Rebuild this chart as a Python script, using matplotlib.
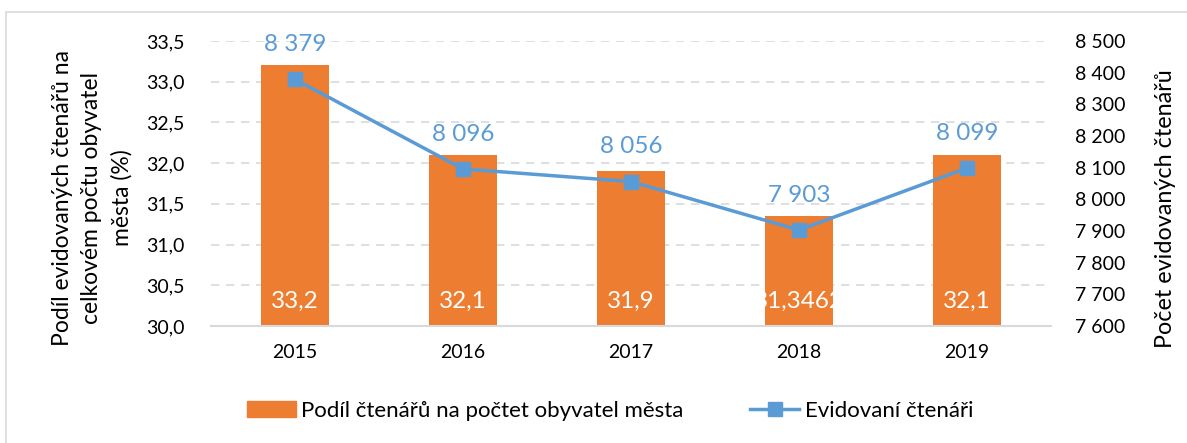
import matplotlib.pyplot as plt
from matplotlib.patches import Rectangle
from matplotlib.lines import Line2D
from matplotlib.patches import Patch

plt.rcParams['font.family'] = ['Lato', 'DejaVu Sans']

# data
roky = ['2015', '2016', '2017', '2018', '2019']
podil = [33.2, 32.1, 31.9, 31.3462, 32.1]
podil_txt = ['33,2', '32,1', '31,9', '31,3462', '32,1']
ctenari = [8379, 8096, 8056, 7903, 8099]

orange = '#ED7D31'
blue = '#5B9BD5'

fig = plt.figure(figsize=(11.87, 4.43), dpi=100)

# rámeček grafu
fig.patches.append(Rectangle((6 / 1187, -0.1), 1.2, 1.1 - 12 / 443, transform=fig.transFigure,
                             fill=False, edgecolor='#D9D9D9', lw=1.2, zorder=0))

ax = fig.add_axes([211 / 1187, 1 - 326 / 443, 840 / 1187, 285 / 443])
x = range(len(roky))
ax.bar(x, podil, width=0.4, color=orange, zorder=2)
ax.set_ylim(30, 33.5)
ax.set_xlim(-0.5, len(roky) - 0.5)
ax.set_yticks([30 + 0.5 * i for i in range(8)])
ax.set_yticklabels([f'{30 + 0.5 * i:.1f}'.replace('.', ',') for i in range(8)], fontsize=14)
ax.set_xticks(list(x))
ax.set_xticklabels(roky, fontsize=14)
ax.tick_params(axis='y', length=0, pad=19)
ax.tick_params(axis='x', length=0, pad=13)
ax.grid(axis='y', color='#D9D9D9', linestyle=(0, (5, 4)), lw=1.2, zorder=0)
for s in ['top', 'right', 'left']:
    ax.spines[s].set_visible(False)
ax.spines['bottom'].set_color('#D9D9D9')
ax.spines['bottom'].set_linewidth(1.5)
ax.spines['bottom'].set_zorder(3)

for i, t in enumerate(podil_txt):
    ax.text(i, 30.3, t, ha='center', va='center', color='white', fontsize=17.5, zorder=4)

ax2 = ax.twinx()
ax2.plot(list(x), ctenari, color=blue, lw=2.5, marker='s', markersize=10, zorder=5)
ax2.set_ylim(7600, 8500)
ax2.set_yticks(range(7600, 8501, 100))
ax2.set_yticklabels([f'{v:,}'.replace(',', ' ') for v in range(7600, 8501, 100)], fontsize=14)
ax2.tick_params(axis='y', length=0, pad=17)
for s in ['top', 'right', 'left', 'bottom']:
    ax2.spines[s].set_visible(False)

for i, v in enumerate(ctenari):
    ax2.annotate(f'{v:,}'.replace(',', ' '), (i, v), xytext=(0, 25), textcoords='offset points',
                 ha='center', va='center', color=blue, fontsize=17.5)

fig.text(92 / 1187, 1 - 198 / 443, 'Podíl evidovaných čtenářů na\ncelkovém počtu obyvatel\nměsta (%)',
         rotation=90, ha='center', va='center', fontsize=16.5, linespacing=1.5)
fig.text(1166 / 1187, 1 - 209 / 443, 'Počet evidovaných čtenářů',
         rotation=90, ha='center', va='center', fontsize=16.8)

handles = [Patch(color=orange), Line2D([], [], color=blue, lw=2.5, marker='s', markersize=10)]
fig.legend(handles, ['Podíl čtenářů na počtet obyvatel města', 'Evidovaní čtenáři'],
           loc='center', bbox_to_anchor=(610 / 1187, 1 - 411 / 443), ncol=2, frameon=False,
           fontsize=16, columnspacing=3.0, handlelength=2.2, handletextpad=0.25)

fig.savefig('out.png', dpi=100)
